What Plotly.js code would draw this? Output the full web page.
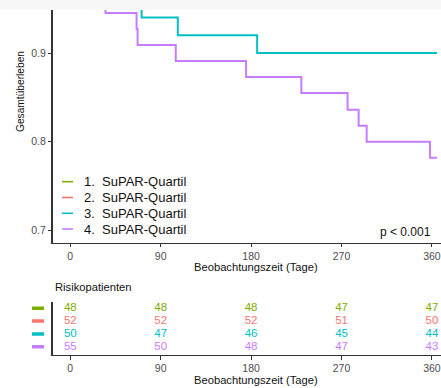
<!DOCTYPE html>
<html>
<head>
<meta charset="utf-8">
<script src="https://cdn.plot.ly/plotly-3.0.1.min.js"></script>
<style>html,body{margin:0;padding:0;background:#fff;}#chart{width:441px;height:388px;}</style>
</head>
<body>
<div id="chart"></div>
<script>
// ---- data ----
const groupLabels = ['1.\u00a0\u00a0SuPAR-Quartil', '2.\u00a0\u00a0SuPAR-Quartil', '3.\u00a0\u00a0SuPAR-Quartil', '4.\u00a0\u00a0SuPAR-Quartil'];
const groupColors = ['#7CAE00', '#F8766D', '#00BFC4', '#C77CFF'];

// Kaplan-Meier step curves (days, survival)
const q1Days = [0, 225, 365];
const q1Surv = [1.0, 0.979, 0.979];
const q2Days = [0, 240, 320, 365];
const q2Surv = [1.0, 0.981, 0.962, 0.962];
const q3Days = [0, 20, 45, 71, 107, 186, 365];
const q3Surv = [1.0, 0.98, 0.96, 0.94, 0.92, 0.90, 0.90];
const q4Days = [0, 8, 21, 35, 66, 67, 105, 175, 230, 276, 287, 295, 358, 365];
const q4Surv = [1.0, 0.982, 0.964, 0.945, 0.927, 0.909, 0.891, 0.873, 0.855, 0.836, 0.818, 0.800, 0.782, 0.782];

// number at risk table
const riskTimes = [0, 90, 180, 270, 360];
const riskQ1 = [48, 48, 48, 47, 47];
const riskQ2 = [52, 52, 52, 51, 50];
const riskQ3 = [50, 47, 46, 45, 44];
const riskQ4 = [55, 50, 48, 47, 43];

const xTicks = [0, 90, 180, 270, 360];
const yTicks = [0.7, 0.8, 0.9];
const yTickText = ['0.7', '0.8', '0.9'];
const xTitle = 'Beobachtungszeit (Tage)';
const yTitle = 'Gesamtüberleben';
const riskTitle = 'Risikopatienten';
const pText = 'p < 0.001';

// ---- layout helpers ----
const W = 441, H = 388;
const fx = x => x / W;
const fy = y => 1 - y / H;
const FONT = 'Arial, "Liberation Sans", sans-serif';

const survDays = [q1Days, q2Days, q3Days, q4Days];
const survVals = [q1Surv, q2Surv, q3Surv, q4Surv];
const riskVals = [riskQ1, riskQ2, riskQ3, riskQ4];

const traces = [];
for (let g = 0; g < 4; g++) {
  traces.push({
    x: survDays[g], y: survVals[g], type: 'scatter', mode: 'lines',
    line: {shape: 'hv', color: groupColors[g], width: 2},
    xaxis: 'x', yaxis: 'y', showlegend: false, hoverinfo: 'skip'
  });
}
for (let g = 0; g < 4; g++) {
  traces.push({
    x: riskTimes, y: riskTimes.map(() => g), text: riskVals[g].map(String),
    type: 'scatter', mode: 'text', textposition: 'middle center',
    textfont: {family: FONT, size: 11.5, color: groupColors[g]},
    xaxis: 'x2', yaxis: 'y2', showlegend: false, hoverinfo: 'skip', cliponaxis: false
  });
}

const axisLine = {showline: true, linecolor: '#333333', linewidth: 1.1, zeroline: false, showgrid: false, fixedrange: true};
const xRange = [-17.7, 369];

const shapes = [
  {type: 'rect', xref: 'paper', yref: 'paper', x0: 0, x1: 1, y0: fy(10), y1: 1, fillcolor: '#F7F7F7', line: {width: 0}, layer: 'below'}
];
const annotations = [];
const legendRows = [181.7, 197.5, 213.3, 229];
for (let g = 0; g < 4; g++) {
  shapes.push({type: 'line', xref: 'paper', yref: 'paper', x0: fx(62), x1: fx(73), y0: fy(legendRows[g]), y1: fy(legendRows[g]), line: {color: groupColors[g], width: 1.6}});
  annotations.push({xref: 'paper', yref: 'paper', x: fx(82), y: fy(legendRows[g]), xanchor: 'left', yanchor: 'middle', text: groupLabels[g], showarrow: false, font: {family: FONT, size: 13, color: '#111'}});
  shapes.push({type: 'line', xref: 'paper', yref: 'y2', x0: fx(32), x1: fx(44), y0: g, y1: g, line: {color: groupColors[g], width: 3.5}});
}
annotations.push(
  {xref: 'paper', yref: 'paper', x: fx(256), y: fy(267), xanchor: 'center', yanchor: 'middle', text: xTitle, showarrow: false, font: {family: FONT, size: 11.2, color: '#111'}},
  {xref: 'paper', yref: 'paper', x: fx(256), y: fy(379.5), xanchor: 'center', yanchor: 'middle', text: xTitle, showarrow: false, font: {family: FONT, size: 11.2, color: '#111'}},
  {xref: 'paper', yref: 'paper', x: fx(20), y: fy(92), xanchor: 'center', yanchor: 'middle', textangle: -90, text: yTitle, showarrow: false, font: {family: FONT, size: 10.2, color: '#111'}},
  {xref: 'paper', yref: 'paper', x: fx(53), y: fy(287.3), xanchor: 'left', yanchor: 'middle', text: riskTitle, showarrow: false, font: {family: FONT, size: 11.2, color: '#111'}},
  {xref: 'paper', yref: 'paper', x: fx(405), y: fy(231.5), xanchor: 'center', yanchor: 'middle', text: pText, showarrow: false, font: {family: FONT, size: 12, color: '#111'}}
);

const tickCommon = {
  ticks: 'outside', ticklen: 3.5, tickcolor: '#333333', tickwidth: 1,
  tickfont: {family: FONT, size: 10.5, color: '#4D4D4D'}, ticklabeloverflow: 'allow'
};

const layout = {
  width: W, height: H,
  margin: {l: 0, r: 0, t: 0, b: 0, autoexpand: false},
  paper_bgcolor: '#ffffff', plot_bgcolor: 'rgba(0,0,0,0)',
  font: {family: FONT},
  showlegend: false,
  xaxis: Object.assign({}, axisLine, tickCommon, {
    domain: [fx(52.5), 1], range: xRange, anchor: 'y', tickvals: xTicks
  }),
  yaxis: Object.assign({}, axisLine, tickCommon, {
    domain: [fy(242.7), fy(10)], range: [0.6863, 0.9485], anchor: 'x',
    tickvals: yTicks, ticktext: yTickText
  }),
  xaxis2: Object.assign({}, axisLine, tickCommon, {
    domain: [fx(52.5), 1], range: xRange, anchor: 'y2', tickvals: xTicks
  }),
  yaxis2: Object.assign({}, axisLine, {
    domain: [fy(355), fy(301.7)], range: [3.648, -0.516], anchor: 'x2',
    ticks: '', showticklabels: false
  }),
  shapes: shapes,
  annotations: annotations
};

Plotly.newPlot('chart', traces, layout, {staticPlot: true, displayModeBar: false});
</script>
</body>
</html>
